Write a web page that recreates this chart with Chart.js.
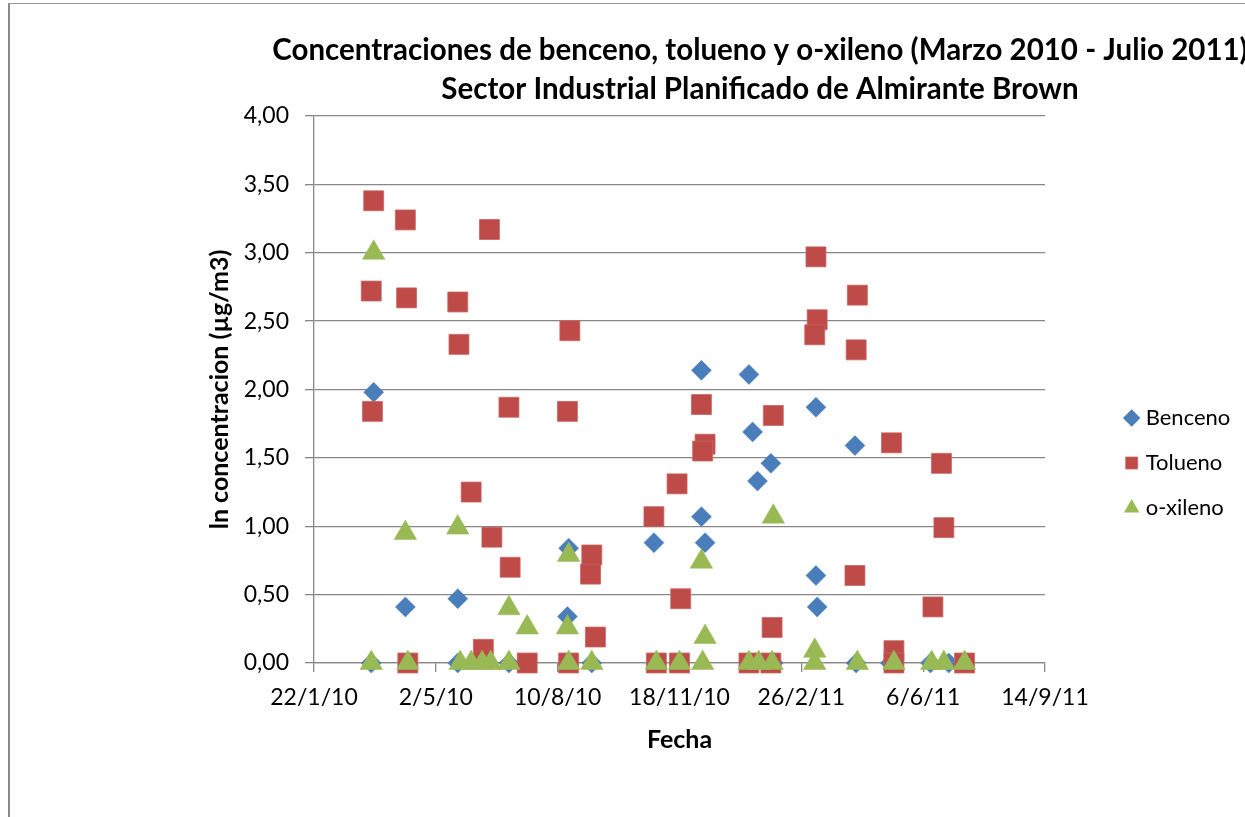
<!DOCTYPE html>
<html><head><meta charset="utf-8">
<script src="https://cdn.jsdelivr.net/npm/chart.js@4.4.1/dist/chart.umd.min.js"></script>
<style>
html,body{margin:0;padding:0;background:#fff;overflow:hidden;width:1245px;height:817px;}
#wrap{position:absolute;left:0;top:0;width:1520px;height:817px;}
#frame{position:absolute;left:8px;top:3px;width:2000px;height:2000px;border-left:2px solid #8a8a8a;border-top:1px solid #9a9a9a;pointer-events:none;}
</style></head><body>
<div id="wrap"><canvas id="c"></canvas></div>
<div id="frame"></div>
<script>
const chartTitle = ['Concentraciones de benceno, tolueno y o-xileno (Marzo 2010 - Julio 2011)', 'Sector Industrial Planificado de Almirante Brown'];
const xAxisTitle = 'Fecha';
const yAxisTitle = 'ln concentracion (µg/m3)';
const seriesNames = ['Benceno', 'Tolueno', 'o-xileno'];
const xTickFirst = '2010-01-22';
const xTickLast = '2011-09-14';
const xTickStepDays = 100;
const yTickValues = [0, 0.5, 1, 1.5, 2, 2.5, 3, 3.5, 4];

const bencenoDates = ['2010-03-12','2010-03-10','2010-04-07','2010-05-20','2010-05-20','2010-07-01','2010-08-19','2010-08-18','2010-09-07','2010-10-28','2010-12-06','2010-12-06','2010-12-09','2011-01-14','2011-01-17','2011-01-21','2011-02-01','2011-02-03','2011-03-10','2011-03-10','2011-03-11','2011-04-11','2011-04-12','2011-05-10','2011-06-12','2011-06-27'];
const bencenoValues = [1.98,0,0.41,0.47,0,0,0.84,0.34,0,0.88,2.14,1.07,0.88,2.11,1.69,1.33,1.46,0,1.87,0.64,0.41,1.59,0,0,0,0];

const toluenoDates = ['2010-03-12','2010-03-10','2010-03-11','2010-04-07','2010-04-08','2010-04-09','2010-05-20','2010-05-21','2010-05-31','2010-06-10','2010-06-15','2010-06-17','2010-07-01','2010-07-02','2010-07-16','2010-08-20','2010-08-18','2010-08-19','2010-09-07','2010-09-06','2010-09-10','2010-10-28','2010-10-30','2010-11-16','2010-11-19','2010-11-18','2010-12-06','2010-12-09','2010-12-07','2011-01-14','2011-02-03','2011-02-02','2011-02-01','2011-03-10','2011-03-11','2011-03-09','2011-04-13','2011-04-12','2011-04-11','2011-05-11','2011-05-13','2011-05-13','2011-06-21','2011-06-23','2011-06-14','2011-07-10'];
const toluenoValues = [3.38,2.72,1.84,3.24,2.67,0,2.64,2.33,1.25,0.10,3.17,0.92,1.87,0.70,0,2.43,1.84,0,0.79,0.65,0.19,1.07,0,1.31,0.47,0,1.89,1.60,1.55,0,1.81,0.26,0,2.97,2.51,2.40,2.69,2.29,0.64,1.61,0.09,0,1.46,0.99,0.41,0];

const xilenoDates = ['2010-03-12','2010-03-10','2010-04-07','2010-04-09','2010-05-20','2010-05-22','2010-05-31','2010-06-09','2010-06-16','2010-07-01','2010-07-01','2010-07-16','2010-08-19','2010-08-18','2010-08-19','2010-09-07','2010-10-30','2010-11-18','2010-12-06','2010-12-09','2010-12-07','2011-01-14','2011-01-22','2011-02-02','2011-02-03','2011-03-09','2011-03-09','2011-04-13','2011-05-13','2011-06-13','2011-06-23','2011-07-10'];
const xilenoValues = [3.00,0,0.95,0,0.99,0,0,0,0,0.40,0,0.26,0.79,0.26,0,0,0,0,0.74,0.19,0,0,0,0,1.07,0.09,0,0,0,0,0,0];

function toSerial(iso) {
  const p = iso.split('-').map(Number);
  return Math.round(Date.UTC(p[0], p[1] - 1, p[2]) / 86400000) + 25569;
}
function fmtDate(serial) {
  const dt = new Date((serial - 25569) * 86400000);
  return dt.getUTCDate() + '/' + (dt.getUTCMonth() + 1) + '/' + String(dt.getUTCFullYear()).slice(2);
}
function pts(dates, values) { return dates.map((d, i) => ({x: toSerial(d), y: values[i]})); }

const GRID = '#878787';
const FONT = 'Lato, "Open Sans", "Liberation Sans", sans-serif';
Chart.defaults.color = '#000';
Chart.defaults.font.family = FONT;

const legendPlace = {
  id: 'legendPlace',
  afterUpdate(chart) {
    const lg = chart.legend;
    if (!lg) return;
    const L = 1105.7, T = 384, H = 300;
    const w = lg.width;
    lg.left = L; lg.right = L + w; lg.top = T; lg.bottom = T + H; lg.height = H;
    if (lg.adjustHitBoxes) lg.adjustHitBoxes();
  }
};

new Chart(document.getElementById('c'), {
  type: 'scatter',
  data: {
    datasets: [
      {label: seriesNames[0], data: pts(bencenoDates, bencenoValues), pointStyle: 'rectRot', radius: 10, backgroundColor: '#4A7EBB', borderColor: '#4A7EBB', borderWidth: 0.5, order: 3, clip: false},
      {label: seriesNames[1], data: pts(toluenoDates, toluenoValues), pointStyle: 'rect', radius: 14.1, backgroundColor: '#BE4B48', borderColor: '#C86562', borderWidth: 0.8, order: 2, clip: false},
      {label: seriesNames[2], data: pts(xilenoDates, xilenoValues), pointStyle: 'triangle', radius: 13, backgroundColor: '#98B954', borderColor: '#98B954', borderWidth: 0.5, order: 1, clip: false}
    ]
  },
  options: {
    responsive: true,
    maintainAspectRatio: false,
    animation: false,
    layout: {padding: 0},
    plugins: {
      title: {display: true, text: chartTitle, color: '#000', font: {family: FONT, size: 29.5, weight: 'bold', lineHeight: '39px'}, padding: {top: 31, bottom: 7}},
      legend: {
        position: 'chartArea', align: 'start',
        labels: {usePointStyle: true, boxWidth: 6, boxHeight: 12, padding: 23, color: '#000', font: {family: FONT, size: 22},
          sort: (a, b) => a.datasetIndex - b.datasetIndex}
      },
      tooltip: {enabled: false}
    },
    scales: {
      x: {
        type: 'linear', position: 'bottom',
        min: toSerial(xTickFirst), max: toSerial(xTickLast),
        afterFit: s => { s.height = 154; },
        ticks: {stepSize: xTickStepDays, callback: v => fmtDate(v), font: {size: 23}, padding: 12, maxRotation: 0, autoSkip: false},
        grid: {drawOnChartArea: false, drawTicks: true, tickLength: 9, color: GRID, lineWidth: 1.3},
        border: {display: true, color: GRID, width: 1.3},
        title: {display: true, text: xAxisTitle, font: {size: 25, weight: 'bold'}, padding: {top: 0, bottom: 62}}
      },
      y: {
        type: 'linear', position: 'left',
        min: yTickValues[0], max: yTickValues[yTickValues.length - 1],
        afterFit: s => { s.width = 314; },
        ticks: {stepSize: yTickValues[1] - yTickValues[0], callback: v => v.toFixed(2).replace('.', ','), font: {size: 23}, padding: 16},
        grid: {drawOnChartArea: true, drawTicks: true, tickLength: 9, color: GRID, lineWidth: 1.3},
        border: {display: true, color: GRID, width: 1.3},
        title: {display: true, text: yAxisTitle, font: {size: 25, weight: 'bold'}, padding: {top: 205, bottom: 0}}
      },
      yR: {
        type: 'linear', position: 'right', display: true,
        afterFit: s => { s.width = 1520 - 1045; },
        ticks: {display: false}, grid: {display: false}, border: {display: false}
      }
    }
  },
  plugins: [legendPlace]
});
</script>
</body></html>
